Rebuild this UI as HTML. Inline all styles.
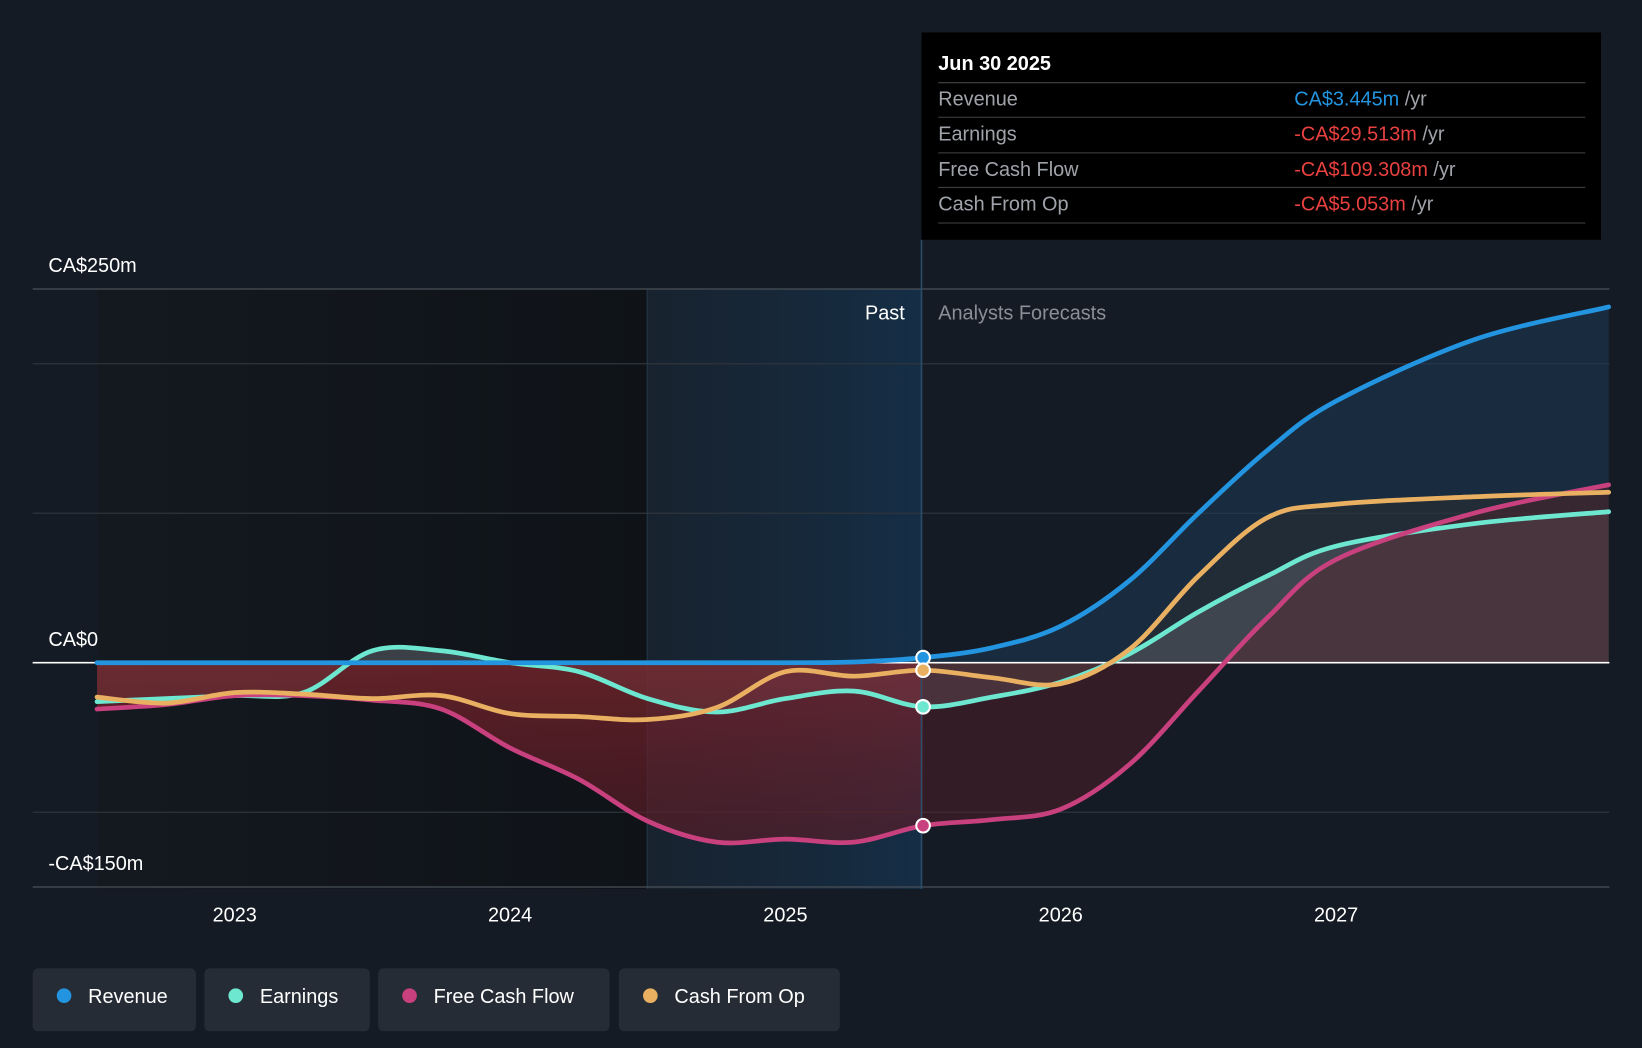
<!DOCTYPE html>
<html><head><meta charset="utf-8"><style>
html,body{margin:0;padding:0;background:#151b24;}
svg{display:block;font-family:"Liberation Sans",sans-serif;}
</style></head><body>
<svg id="chart" width="1642" height="1048" viewBox="0 0 1568 1001" xmlns="http://www.w3.org/2000/svg">
<defs>
<linearGradient id="pastGrad" x1="0" x2="1" y1="0" y2="0"><stop offset="0" stop-color="#1a2a3a" stop-opacity="0.5"/><stop offset="1" stop-color="#15304a" stop-opacity="0.9"/></linearGradient>
<linearGradient id="leftGrad" x1="0" x2="1"><stop offset="0" stop-color="#141920"/><stop offset="1" stop-color="#0f1318"/></linearGradient>
<linearGradient id="redGrad" x1="0" x2="0" y1="0" y2="1"><stop offset="0" stop-color="#b3303a" stop-opacity="0.8"/><stop offset="1" stop-color="#5a1a20" stop-opacity="0.3"/></linearGradient>
</defs>
<rect width="1568" height="1001" fill="#151b24"/>
<rect x="93" y="276" width="525" height="573" fill="url(#leftGrad)"/>
<rect x="618" y="276" width="262" height="573" fill="url(#pastGrad)"/>
<line x1="618" y1="276" x2="618" y2="849" stroke="#24384a" stroke-width="1"/>
<g id="grid"></g>
<g id="fills"></g>
<g id="lines"></g>
<line x1="880" y1="229" x2="880" y2="849" stroke="#2a4d6a" stroke-width="1.5"/>
<text x="864" y="305" fill="#fff" font-size="19" text-anchor="end">Past</text>
<text x="896" y="305" fill="#8a8f96" font-size="19">Analysts Forecasts</text>
<g id="dots"></g>
<g id="xticks"></g>
<g>
<rect x="880" y="31" width="649" height="198" fill="#000"/>
<text x="896" y="67" fill="#fff" font-size="19" font-weight="bold">Jun 30 2025</text>
<line x1="896" y1="79" x2="1514" y2="79" stroke="#444"/>
<text x="896" y="101" fill="#a0a4aa" font-size="19">Revenue</text>
<text x="1236" y="101" font-size="19"><tspan fill="#2394df">CA$3.445m</tspan><tspan fill="#a0a4aa"> /yr</tspan></text>
<line x1="896" y1="112" x2="1514" y2="112" stroke="#444"/>
<text x="896" y="134" fill="#a0a4aa" font-size="19">Earnings</text>
<text x="1236" y="134" font-size="19"><tspan fill="#e8413f">-CA$29.513m</tspan><tspan fill="#a0a4aa"> /yr</tspan></text>
<line x1="896" y1="146" x2="1514" y2="146" stroke="#444"/>
<text x="896" y="168" fill="#a0a4aa" font-size="19">Free Cash Flow</text>
<text x="1236" y="168" font-size="19"><tspan fill="#e8413f">-CA$109.308m</tspan><tspan fill="#a0a4aa"> /yr</tspan></text>
<line x1="896" y1="179" x2="1514" y2="179" stroke="#444"/>
<text x="896" y="201" fill="#a0a4aa" font-size="19">Cash From Op</text>
<text x="1236" y="201" font-size="19"><tspan fill="#e8413f">-CA$5.053m</tspan><tspan fill="#a0a4aa"> /yr</tspan></text>
<line x1="896" y1="213" x2="1514" y2="213" stroke="#444"/>
</g>
<g id="legend"></g>
</svg>
<script>
const yearsT = [2022.5,2022.75,2023,2023.25,2023.5,2023.75,2024,2024.25,2024.5,2024.75,2025,2025.25,2025.5,2025.75,2026,2026.25,2026.5,2026.75,2027,2027.5,2027.99];
const revenue = [0,0,0,0,0,0,0,0,0,0,0,0.5,3.4,10,24.5,55,100,142,175,216,238];
const earnings = [-26,-24,-22,-20,8,8,0,-6,-24,-33,-24,-19,-29.5,-23,-13,6,34,58,78,93,101];
const fcf = [-31,-28,-22,-22,-25,-31,-57,-78,-106,-120,-118,-120,-109,-105,-98,-68,-19,30,69,100,119];
const cfo = [-23,-27,-20,-21,-24,-22,-34,-36,-38,-30,-6,-9,-5,-10,-14,9,58,97,106,111,114];
const yTicks = [250,0,-150];
const yTickLabels = ["CA$250m","CA$0","-CA$150m"];
const gridVals = [250,200,100,-100,-150];
const xTickYears = [2023,2024,2025,2026,2027];
const NS="http://www.w3.org/2000/svg";
const X = t => 224 + (t-2023)*263;
const Y = v => 633 - v*1.428;
function mk(tag, attrs, parent){const e=document.createElementNS(NS,tag);for(const k in attrs)e.setAttribute(k,attrs[k]);parent.appendChild(e);return e;}
function path(vals){
  const p=yearsT.map((t,i)=>[X(t),Y(vals[i])]);
  let d=`M${p[0][0]},${p[0][1]}`;
  for(let i=0;i<p.length-1;i++){
    const p0=p[i-1]||p[i],p1=p[i],p2=p[i+1],p3=p[i+2]||p2;
    const c1=[p1[0]+(p2[0]-p0[0])/6,p1[1]+(p2[1]-p0[1])/6];
    const c2=[p2[0]-(p3[0]-p1[0])/6,p2[1]-(p3[1]-p1[1])/6];
    d+=` C${c1[0]},${c1[1]} ${c2[0]},${c2[1]} ${p2[0]},${p2[1]}`;
  }
  return d;
}
const grid=document.getElementById('grid');
gridVals.forEach(v=>{
  const l=mk('line',{x1:31,x2:1537,y1:Y(v),y2:Y(v),stroke:v===250||v===-150?'#4a5058':'#2e343c','stroke-width':1.2},grid);
  
  
});
yTicks.forEach((v,i)=>{
  const t=mk('text',{x:46,y:Y(v)-16,fill:'#fff','font-size':19},grid);
  t.textContent=yTickLabels[i];
  
  
});
const fills=document.getElementById('fills');
const x0=X(yearsT[0]), x1=X(yearsT[yearsT.length-1]);
const series=[
 {n:'revenue',v:revenue,c:'#2394df',f:'#1d3a55',o:0.55},
 {n:'earnings',v:earnings,c:'#6ee7d0',f:'#8a9098',o:0.35},
 {n:'free-cash-flow',v:fcf,c:'#c8417e',f:'#5a1f2c',o:0.45},
 {n:'cash-from-op',v:cfo,c:'#e9b062',f:'#3a2a20',o:0.25}
];
series.forEach(s=>{
  const a=mk('path',{d:path(s.v)+` L${x1},${Y(0)} L${x0},${Y(0)} Z`,fill:s.f,'fill-opacity':s.o},fills);
  
  
});
const clipR=mk('clipPath',{id:'pastClip'},document.querySelector('defs'));
mk('rect',{x:x0,y:0,width:X(2025.5)-x0,height:1001},clipR);
const rf=mk('path',{d:path(fcf)+` L${x1},${Y(0)} L${x0},${Y(0)} Z`,fill:'url(#redGrad)','clip-path':'url(#pastClip)'},fills);


const zl=mk('line',{x1:31,x2:1537,y1:Y(0),y2:Y(0),stroke:'#fff','stroke-width':1.5},fills);


const lines=document.getElementById('lines');
[series[1],series[2],series[3],series[0]].forEach(s=>{
  const l=mk('path',{d:path(s.v),fill:'none',stroke:s.c,'stroke-width':4.5,'stroke-linecap':'round'},lines);
  
  
});
const dots=document.getElementById('dots');
const idx=yearsT.indexOf(2025.5);
series.forEach(s=>{
  const d=mk('circle',{cx:X(2025.5),cy:Y(s.v[idx]),r:6.5,fill:s.c,stroke:'#fff','stroke-width':2},dots);
  
  
});
const xt=document.getElementById('xticks');
xTickYears.forEach(y=>{
  const t=mk('text',{x:X(y),y:880,fill:'#fff','font-size':19,'text-anchor':'middle'},xt);
  t.textContent=y;
  
  
});
const lg=document.getElementById('legend');
const legendNames=['Revenue','Earnings','Free Cash Flow','Cash From Op'];
const legendX=[31,195,361,591], legendW=[156,158,221,211];
series.forEach((s,i)=>{
  const g=mk('g',{},lg);
  
  
  mk('rect',{x:legendX[i],y:925,width:legendW[i],height:60,rx:5,fill:'#262c35'},g);
  mk('circle',{cx:legendX[i]+30,cy:951,r:7,fill:s.c},g);
  const t=mk('text',{x:legendX[i]+53,y:958,fill:'#fff','font-size':19},g);
  t.textContent=legendNames[i];
});
</script>
</body></html>
